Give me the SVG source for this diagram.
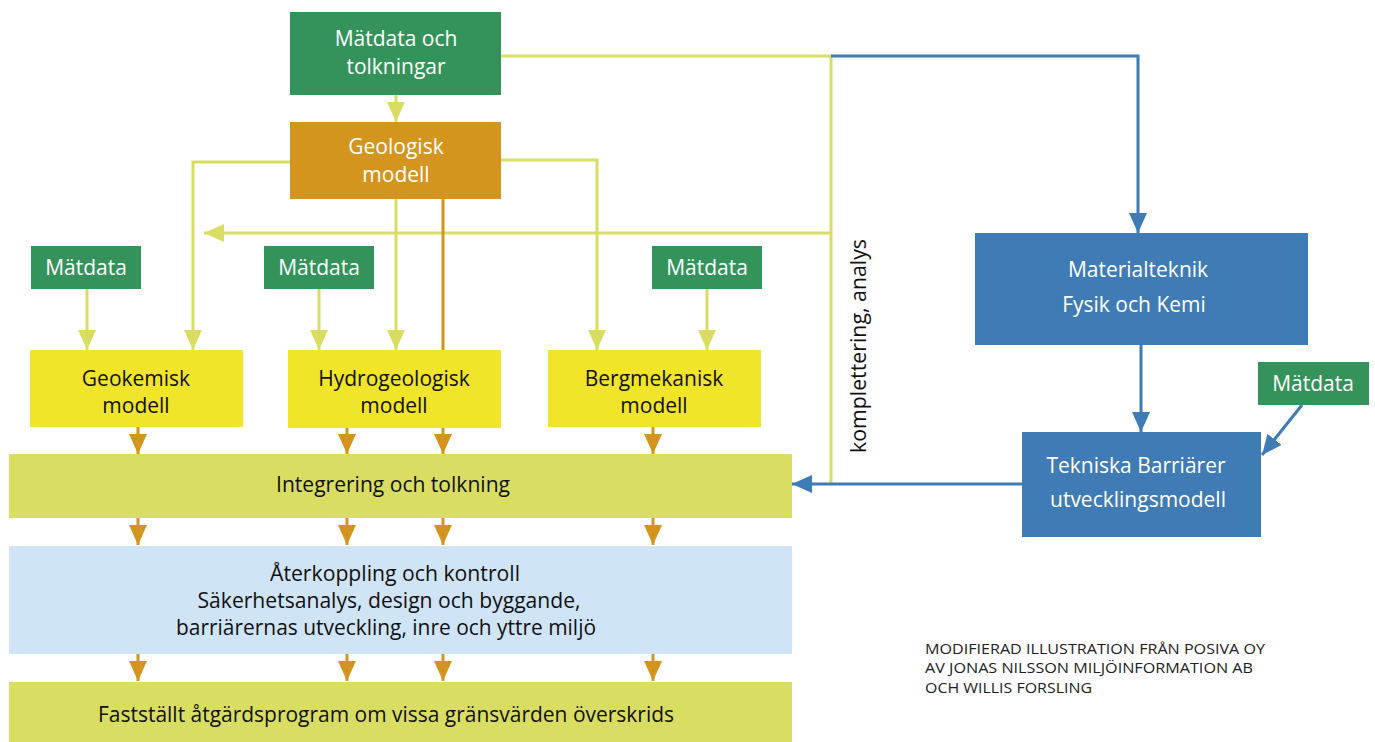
<svg xmlns="http://www.w3.org/2000/svg" width="1375" height="742" viewBox="0 0 1375 742">
<style>
text{font-family:"Open Sans","Noto Sans","Liberation Sans",sans-serif;font-size:21px;text-anchor:middle}
.w{fill:#ffffff}
.k{fill:#111111}
.green{fill:#34935A}
.orange{fill:#D4951F}
.yel{fill:#F1E529}
.olive{fill:#D9DE63}
.lblue{fill:#CFE4F6}
.dblue{fill:#3F7BB5}
.ly{stroke:#D9DE63;stroke-width:3;fill:none}
.lo{stroke:#D4951F;stroke-width:3;fill:none}
.lb{stroke:#3F7BB5;stroke-width:3;fill:none}
.foot{font-size:14.5px;text-anchor:start;fill:#222}
</style>
<defs>
<marker id="ay" markerUnits="userSpaceOnUse" markerWidth="20" markerHeight="18" refX="20" refY="9" orient="auto"><path d="M0,0 L20,9 L0,18 z" fill="#D9DE63"/></marker>
<marker id="ao" markerUnits="userSpaceOnUse" markerWidth="20" markerHeight="18" refX="20" refY="9" orient="auto"><path d="M0,0 L20,9 L0,18 z" fill="#D4951F"/></marker>
<marker id="ab" markerUnits="userSpaceOnUse" markerWidth="20" markerHeight="18" refX="20" refY="9" orient="auto"><path d="M0,0 L20,9 L0,18 z" fill="#3F7BB5"/></marker>
</defs>
<rect width="1375" height="742" fill="#ffffff"/>

<g id="connectors">
<!-- top box to geologisk -->
<path class="ly" d="M396,95 V122" marker-end="url(#ay)"/>
<!-- top box right -> yellow vertical -->
<path class="ly" d="M501,56 H831 V484"/>
<path class="ly" d="M831,233 H204" marker-end="url(#ay)"/>
<!-- blue top -->
<path class="lb" d="M831,56 H1138 V233" marker-end="url(#ab)"/>
<!-- geologisk branches -->
<path class="ly" d="M290,162 H193 V350" marker-end="url(#ay)"/>
<path class="ly" d="M501,160 H597 V350" marker-end="url(#ay)"/>
<path class="ly" d="M396,199 V350" marker-end="url(#ay)"/>
<path class="lo" d="M443,199 V352"/>
<!-- matdata arrows -->
<path class="ly" d="M87,289 V350" marker-end="url(#ay)"/>
<path class="ly" d="M319,289 V350" marker-end="url(#ay)"/>
<path class="ly" d="M707,289 V350" marker-end="url(#ay)"/>
<!-- orange arrows row 1 -->
<path class="lo" d="M138,427 V454" marker-end="url(#ao)"/>
<path class="lo" d="M347,428 V454" marker-end="url(#ao)"/>
<path class="lo" d="M443,428 V454" marker-end="url(#ao)"/>
<path class="lo" d="M653,427 V454" marker-end="url(#ao)"/>
<!-- row 2 -->
<path class="lo" d="M138,518 V545" marker-end="url(#ao)"/>
<path class="lo" d="M347,518 V545" marker-end="url(#ao)"/>
<path class="lo" d="M443,518 V545" marker-end="url(#ao)"/>
<path class="lo" d="M653,518 V545" marker-end="url(#ao)"/>
<!-- row 3 -->
<path class="lo" d="M138,654 V681" marker-end="url(#ao)"/>
<path class="lo" d="M347,654 V681" marker-end="url(#ao)"/>
<path class="lo" d="M443,654 V681" marker-end="url(#ao)"/>
<path class="lo" d="M653,654 V681" marker-end="url(#ao)"/>
<!-- blue right side -->
<path class="lb" d="M1141,345 V432" marker-end="url(#ab)"/>
<path class="lb" d="M1302,405 L1262,455" marker-end="url(#ab)"/>
<path class="lb" d="M1022,484 H792" marker-end="url(#ab)"/>
</g>

<g id="n-matdata-tolkningar">
<rect class="green" x="290" y="12" width="211" height="83"/>
<text class="w" x="396" y="46">Mätdata och</text>
<text class="w" x="396" y="74">tolkningar</text>
</g>
<g id="n-geologisk">
<rect class="orange" x="290" y="122" width="211" height="77"/>
<text class="w" x="396" y="154">Geologisk</text>
<text class="w" x="396" y="182">modell</text>
</g>
<g id="n-matdata1">
<rect class="green" x="31" y="246" width="110" height="43"/>
<text class="w" x="86" y="275">Mätdata</text>
</g>
<g id="n-matdata2">
<rect class="green" x="264" y="246" width="110" height="43"/>
<text class="w" x="319" y="275">Mätdata</text>
</g>
<g id="n-matdata3">
<rect class="green" x="652" y="246" width="110" height="43"/>
<text class="w" x="707" y="275">Mätdata</text>
</g>
<g id="n-geokemisk">
<rect class="yel" x="30" y="350" width="213" height="77"/>
<text class="k" x="136" y="386">Geokemisk</text>
<text class="k" x="136" y="413">modell</text>
</g>
<g id="n-hydrogeologisk">
<rect class="yel" x="288" y="350" width="213" height="78"/>
<text class="k" x="394" y="386">Hydrogeologisk</text>
<text class="k" x="394" y="413">modell</text>
</g>
<g id="n-bergmekanisk">
<rect class="yel" x="548" y="350" width="213" height="77"/>
<text class="k" x="654" y="386">Bergmekanisk</text>
<text class="k" x="654" y="413">modell</text>
</g>
<g id="n-integrering">
<rect class="olive" x="9" y="454" width="783" height="64"/>
<text class="k" x="393" y="492" textLength="234" lengthAdjust="spacingAndGlyphs">Integrering och tolkning</text>
</g>
<g id="n-aterkoppling">
<rect class="lblue" x="9" y="546" width="783" height="108"/>
<text class="k" x="395" y="581" textLength="250" lengthAdjust="spacingAndGlyphs">Återkoppling och kontroll</text>
<text class="k" x="389" y="608" textLength="383" lengthAdjust="spacingAndGlyphs">Säkerhetsanalys, design och byggande,</text>
<text class="k" x="386" y="635" textLength="420" lengthAdjust="spacingAndGlyphs">barriärernas utveckling, inre och yttre miljö</text>
</g>
<g id="n-faststallt">
<rect class="olive" x="9" y="682" width="783" height="60"/>
<text class="k" x="386" y="722" textLength="576" lengthAdjust="spacingAndGlyphs">Fastställt åtgärdsprogram om vissa gränsvärden överskrids</text>
</g>
<g id="n-komplettering">
<text class="k" transform="translate(866,346) rotate(-90)" textLength="214" lengthAdjust="spacingAndGlyphs">komplettering, analys</text>
</g>
<g id="n-materialteknik">
<rect class="dblue" x="975" y="233" width="333" height="112"/>
<text class="w" x="1138" y="277">Materialteknik</text>
<text class="w" x="1134" y="312">Fysik och Kemi</text>
</g>
<g id="n-matdata4">
<rect class="green" x="1258" y="362" width="111" height="43"/>
<text class="w" x="1313" y="391">Mätdata</text>
</g>
<g id="n-tekniska">
<rect class="dblue" x="1022" y="432" width="239" height="105"/>
<text class="w" x="1136" y="473">Tekniska Barriärer</text>
<text class="w" x="1138" y="507">utvecklingsmodell</text>
</g>
<g id="credit">
<text class="foot" x="925" y="654" textLength="340" lengthAdjust="spacingAndGlyphs">MODIFIERAD ILLUSTRATION FRÅN POSIVA OY</text>
<text class="foot" x="925" y="673" textLength="328" lengthAdjust="spacingAndGlyphs">AV JONAS NILSSON MILJÖINFORMATION AB</text>
<text class="foot" x="925" y="693" textLength="167" lengthAdjust="spacingAndGlyphs">OCH WILLIS FORSLING</text>
</g>
</svg>
